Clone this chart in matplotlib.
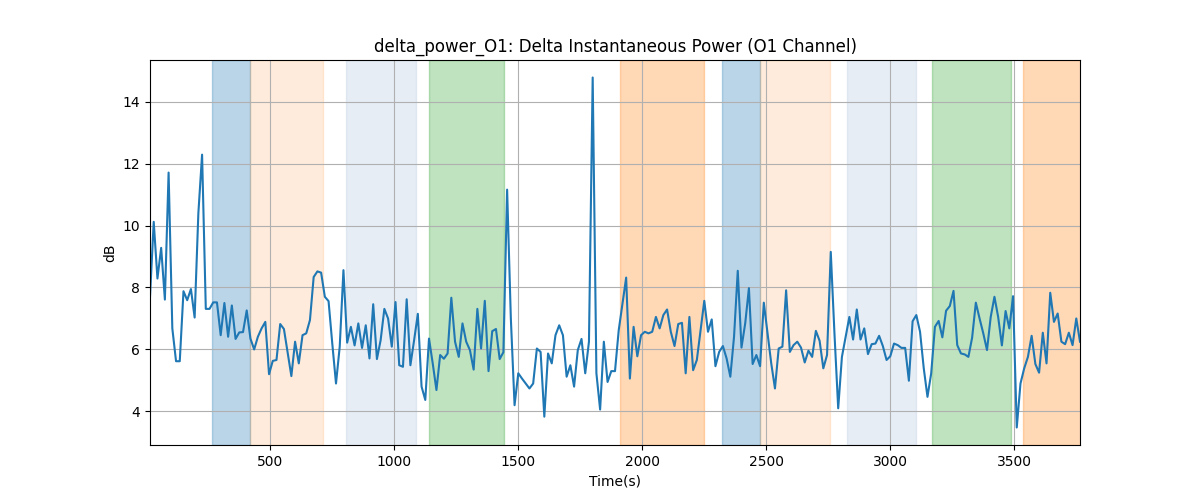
import numpy as np
from matplotlib import pyplot as plt

# Sample times: one value every 15 s.
times = 16 + 15 * np.arange(251)

power_db = [
    7.70, 10.12, 8.29, 9.28, 7.61, 11.71, 6.68, 5.62, 5.62, 7.88,
    7.59, 7.95, 7.03, 10.40, 12.29, 7.31, 7.31, 7.52, 7.52, 6.46,
    7.50, 6.41, 7.42, 6.34, 6.55, 6.56, 7.26, 6.35, 6.00, 6.41,
    6.68, 6.89, 5.20, 5.63, 5.66, 6.82, 6.66, 5.89, 5.14, 6.25,
    5.55, 6.46, 6.52, 6.95, 8.34, 8.52, 8.48, 7.70, 7.56, 6.19,
    4.90, 6.09, 8.56, 6.22, 6.73, 6.13, 6.84, 6.05, 6.78, 5.71,
    7.46, 5.69, 6.30, 7.31, 7.00, 6.09, 7.53, 5.49, 5.44, 7.62,
    5.49, 6.30, 7.15, 4.80, 4.37, 6.35, 5.55, 4.69, 5.82, 5.70,
    5.87, 7.67, 6.25, 5.76, 6.84, 6.25, 5.98, 5.35, 7.31, 6.03,
    7.57, 5.30, 6.59, 6.66, 5.69, 5.91, 11.16, 7.00, 4.20, 5.23,
    5.06, 4.90, 4.74, 4.90, 6.03, 5.92, 3.83, 5.87, 5.55, 6.46,
    6.78, 6.46, 5.12, 5.49, 4.80, 5.98, 6.34, 5.23, 6.25, 14.78,
    5.23, 4.06, 6.25, 4.95, 5.30, 5.30, 6.62, 7.48, 8.32, 5.06,
    6.73, 5.78, 6.46, 6.57, 6.52, 6.57, 7.05, 6.68, 7.11, 7.29,
    6.57, 6.11, 6.82, 6.86, 5.23, 7.05, 5.33, 5.66, 6.62, 7.57,
    6.57, 6.97, 5.46, 5.92, 6.11, 5.71, 5.12, 6.41, 8.54, 6.06,
    6.84, 7.98, 5.53, 5.82, 5.46, 7.51, 6.52, 5.55, 4.74, 6.03,
    6.09, 7.91, 5.92, 6.14, 6.25, 6.06, 5.58, 5.96, 5.76, 6.60,
    6.28, 5.39, 5.82, 9.15, 6.50, 4.10, 5.76, 6.41, 7.05, 6.32,
    7.29, 6.32, 6.68, 5.85, 6.17, 6.19, 6.44, 6.11, 5.66, 5.78,
    6.19, 6.14, 6.05, 6.05, 4.99, 6.91, 7.11, 6.57, 5.39, 4.47,
    5.23, 6.73, 6.92, 6.39, 7.25, 7.40, 7.89, 6.14, 5.87, 5.84,
    5.76, 6.38, 7.51, 7.00, 6.52, 5.98, 7.05, 7.70, 7.05, 6.13,
    7.24, 6.68, 7.72, 3.48, 4.90, 5.39, 5.76, 6.44, 5.53, 5.25,
    6.54, 5.55, 7.83, 6.89, 7.16, 6.25, 6.17, 6.54, 6.14, 7.00,
    6.25,
]

# Shaded stimulus periods.
span_starts = [265, 420, 805, 1140, 1910, 2321, 2477, 2826, 3168, 3535]
span_ends = [420, 712, 1087, 1445, 2248, 2477, 2756, 3106, 3487, 3800]
span_colors = ["tab:blue", "tab:orange", "lightsteelblue", "tab:green", "tab:orange",
               "tab:blue", "tab:orange", "lightsteelblue", "tab:green", "tab:orange"]
span_alphas = [0.3, 0.15, 0.3, 0.3, 0.3, 0.3, 0.15, 0.3, 0.3, 0.3]

fig, ax = plt.subplots(figsize=(12, 5), dpi=100)

for start, end, color, alpha in zip(span_starts, span_ends, span_colors, span_alphas):
    ax.axvspan(start, end, color=color, alpha=alpha)

ax.plot(times, power_db, color="tab:blue", linewidth=1.5)

ax.set_xlim(times[0], times[-1])
ax.set_title("delta_power_O1: Delta Instantaneous Power (O1 Channel)")
ax.set_xlabel("Time(s)")
ax.set_ylabel("dB")
ax.grid(True)

plt.savefig("out.png")
